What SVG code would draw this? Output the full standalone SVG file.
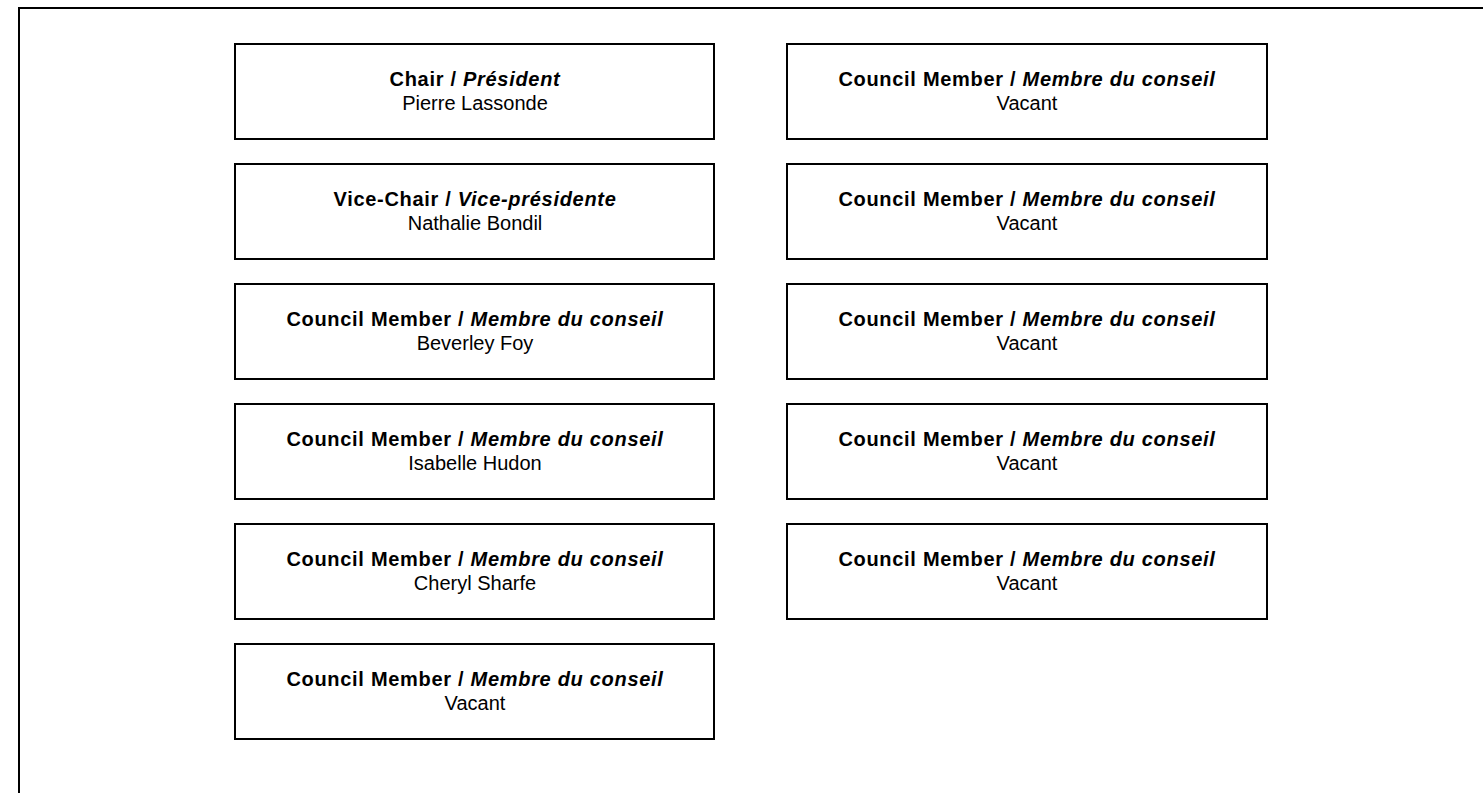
<svg xmlns="http://www.w3.org/2000/svg" width="1483" height="793" viewBox="0 0 1483 793">
<style>
.box{fill:#fff;stroke:#000;stroke-width:2}
.t{font-family:"Liberation Sans",Arial,sans-serif;font-size:20px;text-anchor:middle;fill:#000}
.b{font-weight:bold;letter-spacing:0.7px}
.i{font-style:italic}
</style>
<rect width="1483" height="793" fill="#fff"/>
<path d="M19,793 V8 H1483" fill="none" stroke="#000" stroke-width="2"/>
<g id="n1"><rect class="box" x="235" y="44" width="479" height="95"/><text class="t b" x="475" y="86">Chair / <tspan class="i">Président</tspan></text><text class="t" x="475" y="110">Pierre Lassonde</text></g>
<g id="n2"><rect class="box" x="235" y="164" width="479" height="95"/><text class="t b" x="475" y="206">Vice-Chair / <tspan class="i">Vice-présidente</tspan></text><text class="t" x="475" y="230">Nathalie Bondil</text></g>
<g id="n3"><rect class="box" x="235" y="284" width="479" height="95"/><text class="t b" x="475" y="326">Council Member / <tspan class="i">Membre du conseil</tspan></text><text class="t" x="475" y="350">Beverley Foy</text></g>
<g id="n4"><rect class="box" x="235" y="404" width="479" height="95"/><text class="t b" x="475" y="446">Council Member / <tspan class="i">Membre du conseil</tspan></text><text class="t" x="475" y="470">Isabelle Hudon</text></g>
<g id="n5"><rect class="box" x="235" y="524" width="479" height="95"/><text class="t b" x="475" y="566">Council Member / <tspan class="i">Membre du conseil</tspan></text><text class="t" x="475" y="590">Cheryl Sharfe</text></g>
<g id="n6"><rect class="box" x="235" y="644" width="479" height="95"/><text class="t b" x="475" y="686">Council Member / <tspan class="i">Membre du conseil</tspan></text><text class="t" x="475" y="710">Vacant</text></g>
<g id="n7"><rect class="box" x="787" y="44" width="480" height="95"/><text class="t b" x="1027" y="86">Council Member / <tspan class="i">Membre du conseil</tspan></text><text class="t" x="1027" y="110">Vacant</text></g>
<g id="n8"><rect class="box" x="787" y="164" width="480" height="95"/><text class="t b" x="1027" y="206">Council Member / <tspan class="i">Membre du conseil</tspan></text><text class="t" x="1027" y="230">Vacant</text></g>
<g id="n9"><rect class="box" x="787" y="284" width="480" height="95"/><text class="t b" x="1027" y="326">Council Member / <tspan class="i">Membre du conseil</tspan></text><text class="t" x="1027" y="350">Vacant</text></g>
<g id="n10"><rect class="box" x="787" y="404" width="480" height="95"/><text class="t b" x="1027" y="446">Council Member / <tspan class="i">Membre du conseil</tspan></text><text class="t" x="1027" y="470">Vacant</text></g>
<g id="n11"><rect class="box" x="787" y="524" width="480" height="95"/><text class="t b" x="1027" y="566">Council Member / <tspan class="i">Membre du conseil</tspan></text><text class="t" x="1027" y="590">Vacant</text></g>
<g id="connectors"></g>
</svg>
